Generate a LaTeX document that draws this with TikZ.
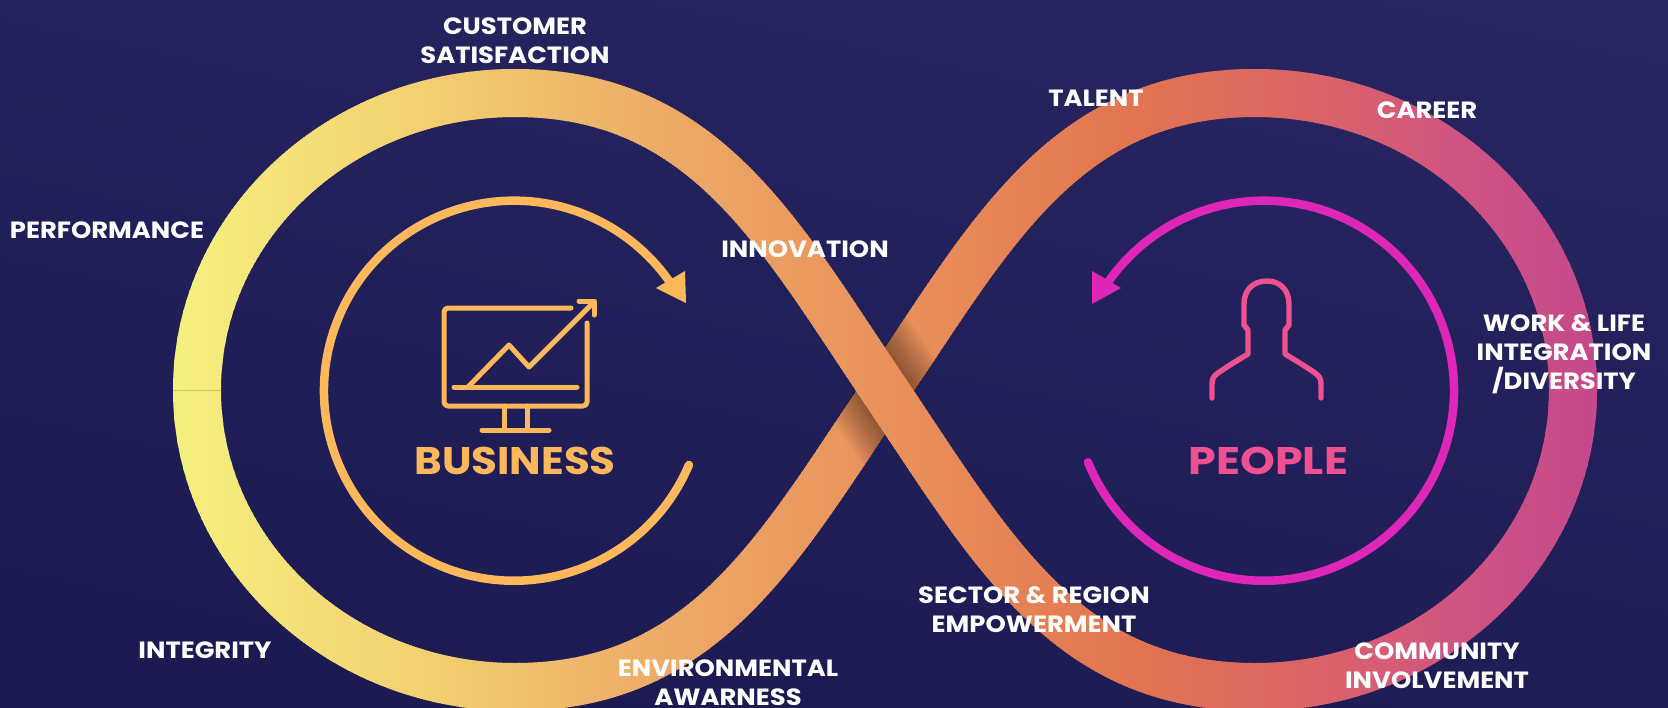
\documentclass[tikz,border=0pt]{standalone}
\usepackage{fontspec}
\setmainfont{Poppins}
\newfontfamily\labfont{Poppins}[FakeStretch=1.1,BoldFont=Poppins Bold]
\newfontfamily\bizfont{Poppins}[FakeStretch=1.09,BoldFont=Poppins Bold]
\newfontfamily\pplfont{Poppins}[FakeStretch=1.15,BoldFont=Poppins Bold]
\usetikzlibrary{calc}
\definecolor{bizc}{RGB}{253,184,92}
\definecolor{pplc}{RGB}{239,81,144}
\definecolor{magc}{RGB}{222,38,184}
\definecolor{bgtop}{RGB}{40,38,98}
\definecolor{bgbot}{RGB}{27,25,80}
\newcommand{\pieceA}{(515,687) .. controls (705,687) and (779,548) .. (885,391) .. controls (991,234) and (1065,93) .. (1255,93)}
\newcommand{\pieceB}{(1255,93) .. controls (1431,93) and (1573,226) .. (1573,390) .. controls (1573,554) and (1431,687) .. (1255,687) .. controls (1065,687) and (991,548) .. (885,391) .. controls (779,234) and (705,93) .. (515,93) .. controls (339,93) and (197,226) .. (197,390) .. controls (197,554) and (339,687) .. (515,687)}
\newcommand{\strips}[1]{%
  \foreach \xa/\xb/\ra/\ga/\ba/\rb/\gb/\bb in {
     165/300/246/242/127/245/224/120,
     300/432/245/224/120/243/207/112,
     432/600/243/207/112/239/180/106,
     600/759/239/180/106/236/159/98,
     759/960/236/159/98/232/138/88,
     960/1122/232/138/88/226/118/80,
     1122/1302/226/118/80/220/101/101,
     1302/1452/220/101/101/209/85/130,
     1452/1605/209/85/130/196/72/140}{%
    \pgfmathtruncatemacro{\nn}{(\xb-\xa)/3}%
    \foreach \ii in {1,...,\nn}{%
      \pgfmathsetmacro{\xx}{\xa+3*(\ii-1)}%
      \pgfmathsetmacro{\ff}{(\xx-\xa)/(\xb-\xa)}%
      \pgfmathtruncatemacro{\rc}{\ra+(\rb-\ra)*\ff}%
      \pgfmathtruncatemacro{\gc}{\ga+(\gb-\ga)*\ff}%
      \pgfmathtruncatemacro{\bc}{\ba+(\bb-\ba)*\ff}%
      \definecolor{stripc}{RGB}{\rc,\gc,\bc}%
      \begin{scope}
        \clip (\xx,0) rectangle ({\xx+4},707);
        \draw[bandline,stripc] #1;
      \end{scope}
    }%
  }%
}
\tikzset{
  bandline/.style={line width=48pt,line cap=butt,line join=round},
  lab/.style={text=white,font=\fontsize{23.5}{29}\labfont\selectfont\bfseries,align=center,inner sep=0pt},
  bigbiz/.style={text=bizc,font=\fontsize{38.5}{40}\bizfont\selectfont\bfseries,inner sep=0pt},
  bigppl/.style={text=pplc,font=\fontsize{38.5}{40}\pplfont\selectfont\bfseries,inner sep=0pt},
  bizring/.style={draw=bizc,line width=8.5pt,line cap=round},
  pplring/.style={draw=magc,line width=8.5pt,line cap=round},
  bizicon/.style={draw=bizc,line width=5pt,line cap=round,line join=round},
  pplicon/.style={draw=pplc,line width=5.4pt,line cap=round,line join=round},
}
\begin{document}
\begin{tikzpicture}[x=1pt,y=-1pt]
\useasboundingbox (0,0) rectangle (1668,707);
\shade[shading=axis,bottom color=bgbot,top color=bgtop,shading angle=-12] (-60,-60) rectangle (1728,767);
% band: the rising part goes under
\strips{\pieceA}
\begin{scope}
  \clip ({885+24.5*0.829+75*0.56},{391+24.5*0.56-75*0.829})
     -- ({885+24.5*0.829-75*0.56},{391+24.5*0.56+75*0.829})
     -- ({885-24.5*0.829-75*0.56},{391-24.5*0.56+75*0.829})
     -- ({885-24.5*0.829+75*0.56},{391-24.5*0.56-75*0.829}) -- cycle;
  \foreach \d in {26,28,...,60}{
    \fill[black,opacity=0.025]
      ({885+\d*0.829+110*0.56},{391-\d*0.56+110*0.829})
      -- ({885+\d*0.829-110*0.56},{391-\d*0.56-110*0.829})
      -- ({885-\d*0.829-110*0.56},{391+\d*0.56-110*0.829})
      -- ({885-\d*0.829+110*0.56},{391+\d*0.56+110*0.829}) -- cycle;
  }
\end{scope}
\strips{\pieceB}
\draw[color={rgb,255:red,200;green,196;blue,110},line width=0.8pt] (173,390.5) -- (221,390.5);
% rings
\draw[bizring] (514,390.7) ++(23:190) arc[start angle=23,end angle=324.6,radius=190];
\fill[bizc] (656,288) -- (685,271) -- (686,303) -- cycle;
\draw[pplring] (1264,390.7) ++(157.9:190) arc[start angle=157.9,end angle=-144.8,radius=190];
\fill[magc] (1092,271) -- (1092,304) -- (1121,288) -- cycle;
% monitor icon
\draw[bizicon] (571,308) -- (448,308) arc[start angle=270,end angle=180,radius=4] -- (444,402) arc[start angle=180,end angle=90,radius=4] -- (583,406) arc[start angle=90,end angle=0,radius=4] -- (587,323);
\draw[bizicon] (454,387) -- (577,387);
\draw[bizicon] (468,387) -- (509,345) -- (529,367) -- (593,303);
\draw[bizicon] (579,301) -- (594,301) -- (594,315);
\draw[bizicon] (504,406) -- (504,430);
\draw[bizicon] (527,406) -- (527,430);
\draw[bizicon] (482,430) -- (549,430);
% person icon
\draw[pplicon] (1212,398) -- (1212,384) .. controls (1212,378) and (1214,376) .. (1218,373) .. controls (1228,366) and (1238,360) .. (1248,354) -- (1248,330) -- (1244,325) -- (1244,304) .. controls (1244,290) and (1253,281) .. (1267,281) .. controls (1280,281) and (1289,290) .. (1289,304) -- (1289,325) -- (1285,330) -- (1285,354) .. controls (1295,360) and (1305,366) .. (1315,373) .. controls (1319,376) and (1321,378) .. (1321,384) -- (1321,398);
% titles
\node[bigbiz,anchor=base] (biz) at (515,474.5) {BUSINESS};
\node[bigppl,anchor=base] (ppl) at (1268.5,474.5) {PEOPLE};
% labels
\node[lab] (l1) at (515,40.5) {CUSTOMER\\SATISFACTION};
\node[lab] (l2) at (107,230) {PERFORMANCE};
\node[lab] (l3) at (205,650) {INTEGRITY};
\node[lab] (l4) at (728,683) {ENVIRONMENTAL\\AWARNESS};
\node[lab] (l5) at (805,249.5) {INNOVATION};
\node[lab] (l6) at (1096,98) {TALENT};
\node[lab] (l7) at (1427,110.5) {CAREER};
\node[lab] (l8) at (1564,354) {WORK \& LIFE\\INTEGRATION\\/DIVERSITY};
\node[lab] (l9) at (1034,610) {SECTOR \& REGION\\EMPOWERMENT};
\node[lab] (l10) at (1437,666) {COMMUNITY\\INVOLVEMENT};
\end{tikzpicture}
\end{document}
